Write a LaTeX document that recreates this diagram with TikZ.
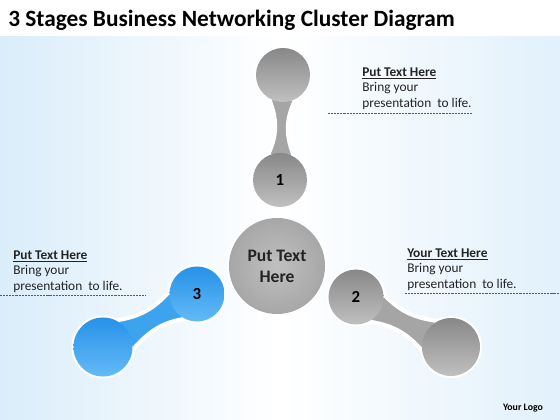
\documentclass[tikz,border=0pt]{standalone}
\usepackage{fontspec}
\setmainfont{Carlito}
\usetikzlibrary{calc}

\definecolor{bgblue}{RGB}{218,237,250}
\definecolor{greydark}{RGB}{136,136,136}
\definecolor{greymid}{RGB}{165,165,165}
\definecolor{greylight}{RGB}{192,192,192}
\definecolor{bluedark}{RGB}{38,146,232}
\definecolor{bluemid}{RGB}{62,163,238}
\definecolor{bluelight}{RGB}{100,186,246}
\definecolor{inktext}{RGB}{35,35,35}

\tikzset{
    ball/.style={circle, inner sep=0pt, font=\fontsize{12}{14}\selectfont\bfseries},
    greyball/.style={ball, top color=greydark, bottom color=greymid!70!white},
    blueball/.style={ball, top color=bluedark, bottom color=bluelight},
    rim/.style={fill=white},
    neckrim/.style={draw=white, line width=2.8pt},
    note/.style={align=left, anchor=north west, inner sep=0pt,
        font=\fontsize{9.5}{11}\selectfont, text=inktext},
    guide/.style={draw=black!65, dash pattern=on 1.5pt off 0.7pt, line width=0.5pt}
}

\begin{document}
\begin{tikzpicture}[x=0.025cm, y=0.025cm]
    \useasboundingbox (0,0) rectangle (560,420);
    \fill[white] (0,0) rectangle (560,420);
    \shade[left color=bgblue, right color=bgblue!80!white, middle color=white]
        (0,0) rectangle (560,383);

    \coordinate (t) at (283,345);
    \coordinate (n1) at (280,240);
    \coordinate (c) at (277,154);
    \coordinate (n2) at (356,123);
    \coordinate (o2) at (451,73);
    \coordinate (n3) at (197,126);
    \coordinate (o3) at (103,73);

    % white rims
    \fill[rim] (t) circle (29);
    \fill[rim] (n1) circle (29);
    \fill[rim] (n2) circle (29.5);
    \fill[rim] (o2) circle (31);
    \fill[rim] (n3) circle (29.5);
    \fill[rim] (o3) circle (31.5);
    \fill[rim] (c) circle (50);

    % necks
    \filldraw[neckrim, fill=greymid] ($(t)+(238:27)$)
        to[out=293,in=63] ($(n1)+(118:27)$)
        -- ($(n1)+(58:27)$)
        to[out=113,in=243] ($(t)+(298:27)$) -- cycle;
    \filldraw[neckrim, fill=greymid] ($(n2)+(297:27.5)$)
        to[out=352,in=132] ($(o2)+(187:29)$)
        -- ($(o2)+(117:29)$)
        to[out=172,in=312] ($(n2)+(7:27.5)$) -- cycle;
    \filldraw[neckrim, fill=bluemid] ($(n3)+(174:27.5)$)
        to[out=229,in=9] ($(o3)+(64:29.5)$)
        -- ($(o3)+(354:29.5)$)
        to[out=49,in=189] ($(n3)+(244:27.5)$) -- cycle;

    % balls
    \node[greyball, minimum size=1.35cm] (top) at (t) {};
    \node[greyball, minimum size=1.35cm] (b1) at (n1) {1};
    \node[greyball, minimum size=1.375cm] (b2) at (n2) {2};
    \node[greyball, minimum size=1.45cm] (end2) at (o2) {};
    \node[blueball, minimum size=1.375cm] (b3) at (n3) {3};
    \node[blueball, minimum size=1.475cm] (end3) at (o3) {};
    \node[ball, inner color=greylight, outer color=greylight!55!greydark, minimum size=2.4cm,
        align=center, text=inktext, font=\fontsize{12.5}{15}\selectfont\bfseries]
        (hub) at (c) {Put Text\\Here};

    % texts
    \node[anchor=base west, inner sep=0pt, font=\fontsize{16.6}{19}\selectfont\bfseries]
        (title) at (8,393) {3 Stages Business Networking Cluster Diagram};
    \node[note] (txt1) at (362,352.5)
        {\textbf{\underline{Put Text Here}}\\Bring your\\presentation~ to life.};
    \node[note] (txt2) at (407,171.5)
        {\textbf{\underline{Your Text Here}}\\Bring your\\presentation~ to life.};
    \node[note] (txt3) at (13,169.5)
        {\textbf{\underline{Put Text Here}}\\Bring your\\presentation~ to life.};
    \node[font=\fontsize{7}{8}\selectfont\bfseries] (logo) at (523,12) {Your Logo};

    \coordinate (g1a) at (328,307);
    \coordinate (g1b) at (472,307);
    \coordinate (g2a) at (405,127);
    \coordinate (g2b) at (560,127);
    \coordinate (g3a) at (0,125);
    \coordinate (g3b) at (146,125);
    \draw[guide] (g1a) -- (g1b);
    \draw[guide] (g2a) -- (g2b);
    \draw[guide] (g3a) -- (g3b);
\end{tikzpicture}
\end{document}
